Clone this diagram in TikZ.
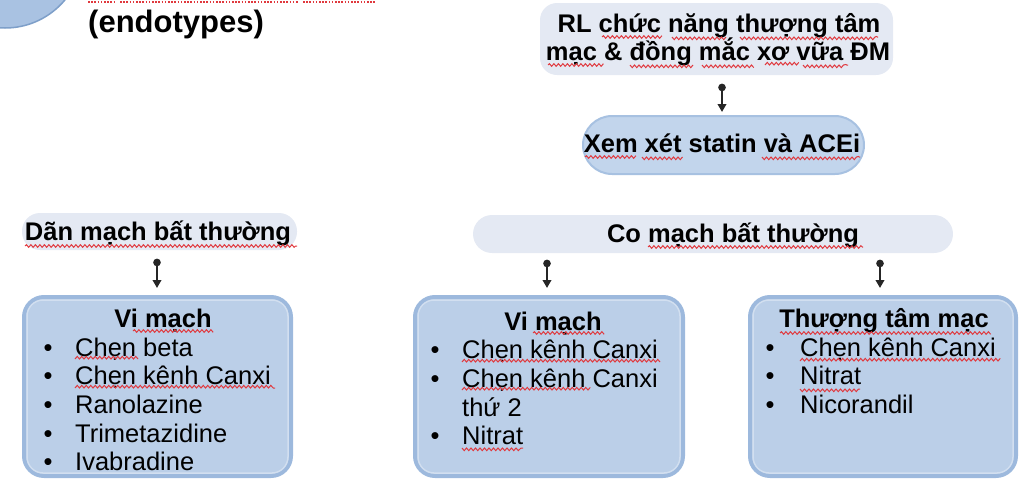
\documentclass[tikz,border=0pt]{standalone}
\usepackage{fontspec}
\setmainfont{Liberation Sans}
\usetikzlibrary{arrows.meta,decorations.pathmorphing}

\definecolor{pillfill}{HTML}{E4E9F3}
\definecolor{boxfill}{HTML}{BBCFE8}
\definecolor{boxedge}{HTML}{9DB9DD}
\definecolor{ovalfill}{HTML}{C2D5EC}
\definecolor{ovaledge}{HTML}{A7C1E1}
\definecolor{circfill}{HTML}{A9C2E2}
\definecolor{circedge}{HTML}{7E9FC9}
\definecolor{wavy}{HTML}{E0393E}

\tikzset{
  pill/.style={fill=pillfill, rounded corners=17pt, inner sep=0pt},
  drugbox/.style={fill=boxfill, draw=boxedge, line width=4pt, rounded corners=20pt, inner sep=0pt},
  sheen/.style={draw=white, draw opacity=0.35, line width=1.5pt, rounded corners=16pt},
  oval/.style={fill=ovalfill, draw=ovaledge, line width=2pt, rounded corners=29pt, inner sep=0pt},
  txt/.style={font=\fontsize{25.5}{29}\selectfont, inner sep=0pt, anchor=base west},
  bul/.style={font=\fontsize{25.5}{29}\selectfont, inner sep=0pt, anchor=base},
  ttl/.style={font=\fontsize{25.5}{29}\selectfont\bfseries, inner sep=0pt, anchor=base},
  link/.style={draw=black!85, line width=2pt, {Circle[length=7.5pt]}-{Triangle[length=8pt,width=8.5pt]}},
  squiggle/.style={draw=wavy, line width=1pt, decorate, decoration={snake, amplitude=1.3pt, segment length=4.5pt}},
}

\begin{document}
\begin{tikzpicture}[x=1pt, y=-1pt]
\useasboundingbox (0,0) rectangle (1026,483);

% corner badge and heading
\node[circle, fill=circfill, draw=circedge, line width=1.5pt, minimum size=156pt, inner sep=0pt] (badge) at (5,-50) {};
\draw[wavy, line width=1.4pt, dash pattern=on 1.6pt off 1.6pt] (88,2) -- (115,2) (120,2) -- (298,2) (303,2) -- (375,2);
\node[font=\fontsize{31}{36}\selectfont\bfseries, inner sep=0pt, anchor=base west] (endo) at (88,32) {(endotypes)};

% boxes
\node[pill, minimum width=353pt, minimum height=72pt] (top) at (716.5,39) {};
\node[oval, minimum width=281pt, minimum height=58pt] (xem) at (723.5,145) {};
\node[pill, minimum width=275pt, minimum height=37pt, rounded corners=18pt] (dan) at (159.5,231.5) {};
\node[pill, minimum width=480pt, minimum height=38pt, rounded corners=19pt] (co) at (713,234) {};
\node[drugbox, minimum width=267pt, minimum height=179pt] (left) at (157.5,386.5) {};
\node[drugbox, minimum width=268pt, minimum height=179pt] (mid) at (549,386.5) {};
\node[drugbox, minimum width=266pt, minimum height=179pt] (right) at (883,386.5) {};

% inner highlight of the drug boxes
\foreach \b in {left,mid,right}{
  \draw[sheen] ([shift={(5,5)}]\b.north west) rectangle ([shift={(-5,-5)}]\b.south east);
}

% connectors
\draw[link, shorten <=8.5pt, shorten >=3pt] ([xshift=5.5pt]top.south) -- ([xshift=-1.5pt]xem.north);
\draw[link, shorten <=8.5pt, shorten >=7pt] ([xshift=-2.5pt]dan.south) -- ([xshift=-0.5pt]left.north);
\draw[link, shorten <=6.5pt, shorten >=7pt] ([xshift=-2pt]co.south -| mid.north) -- ([xshift=-2pt]mid.north);
\draw[link, shorten <=6.5pt, shorten >=7pt] ([xshift=-3pt]co.south -| right.north) -- ([xshift=-3pt]right.north);

% texts of the upper boxes
\node[ttl] (top1) at (719,32) {RL chức năng thượng tâm};
\node[ttl] (top2) at (718,60) {mạc \& đồng mắc xơ vữa ĐM};
\node[ttl] (xemt) at (722,152) {Xem xét statin và ACEi};
\node[ttl] (dant) at (158,240) {Dãn mạch bất thường};
\node[ttl] (cot) at (733,242) {Co mạch bất thường};

% left list
\node[ttl] (lh) at (163,327) {Vi mạch};
\foreach \yy/\tt [count=\i] in {356/Chẹn beta, 384/Chẹn kênh Canxi, 413/Ranolazine, 442/Trimetazidine, 470/Ivabradine}{
  \node[bul] (lb\i) at (48,\yy) {•};
  \node[txt] (lt\i) at (75,\yy) {\tt};
}

% middle list
\node[ttl] (mh) at (553,330) {Vi mạch};
\foreach \yy/\tt [count=\i] in {358/Chẹn kênh Canxi, 387/Chẹn kênh Canxi, 444/Nitrat}{
  \node[bul] (mb\i) at (435,\yy) {•};
  \node[txt] (mt\i) at (462,\yy) {\tt};
}
\node[txt] (mt4) at (462,416) {thứ 2};

% right list
\node[ttl] (rh) at (884,327) {Thượng tâm mạc};
\foreach \yy/\tt [count=\i] in {356/Chẹn kênh Canxi, 384/Nitrat, 413/Nicorandil}{
  \node[bul] (rb\i) at (770,\yy) {•};
  \node[txt] (rt\i) at (800,\yy) {\tt};
}

% spelling marks under words
\draw[squiggle] (602,37) -- (660,37) (672,37) -- (727,37) (740,37) -- (878,37);
\draw[squiggle] (548,65) -- (602,65) (630,65) -- (693,65) (702,65) -- (755,65) (765,65) -- (797,65) (803,65) -- (848,65);
\draw[squiggle] (585,157) -- (635,157) (642,157) -- (682,157) (762,157) -- (860,157);
\draw[squiggle] (25,246) -- (297,246);
\draw[squiggle] (648,247) -- (863,247);
\draw[squiggle] (133,331) -- (213,331) (75,359) -- (137,359) (75,388) -- (275,388);
\draw[squiggle] (533,333) -- (603,333) (462,362) -- (660,362) (462,390) -- (590,390) (462,448) -- (523,448);
\draw[squiggle] (780,333) -- (990,333) (800,361) -- (1000,361) (800,389) -- (860,389);
\end{tikzpicture}
\end{document}
